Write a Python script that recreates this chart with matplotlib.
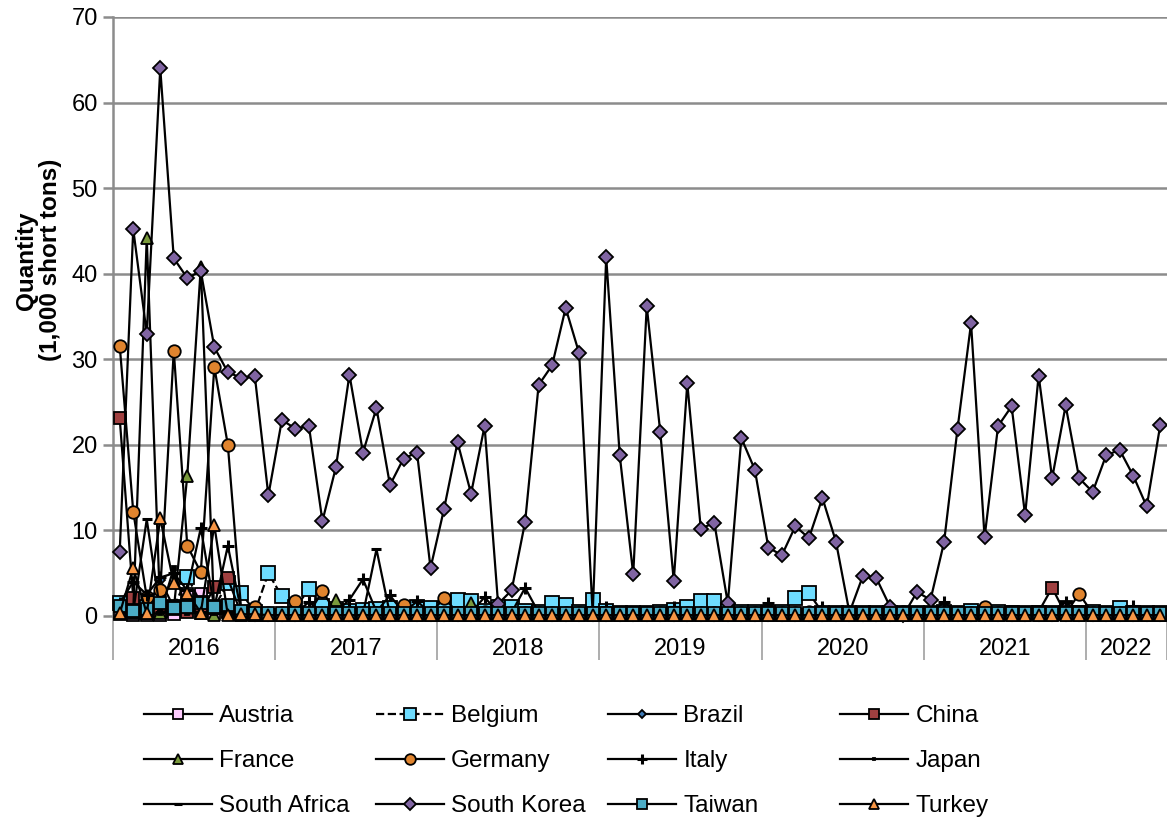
import numpy as np
import matplotlib.pyplot as plt

plt.rcParams['font.family'] = ['Liberation Sans', 'DejaVu Sans']

# monthly data, Jan 2016 - Jun 2022 (78 months), 1,000 short tons
years = ['2016', '2017', '2018', '2019', '2020', '2021', '2022']
months_per_year = [12, 12, 12, 12, 12, 12, 6]

austria = [0.2, 0.1, 0.1, 0.1, 0.2, 2.6, 2.6, 0.3, 0.5, 0.1, 0.1, 0.1,
           0.1, 0.1, 0.1, 0.1, 0.1, 0.1, 0.1, 0.1, 0.1, 0.1, 0.1, 0.1,
           0.1, 0.1, 0.1, 0.1, 0.1, 0.1, 0.1, 0.1, 0.1, 0.1, 0.1, 0.1,
           0.1, 0.1, 0.1, 0.1, 0.1, 0.1, 0.1, 0.1, 0.1, 0.1, 0.1, 0.1,
           0.1, 0.1, 0.1, 0.1, 0.1, 0.1, 0.1, 0.1, 0.1, 0.1, 0.1, 0.1,
           0.1, 0.1, 0.1, 0.1, 0.1, 0.1, 0.1, 0.1, 0.1, 0.1, 1.0, 0.1,
           0.1, 0.1, 0.1, 0.1, 0.1, 0.1]
belgium = [1.5, 0.5, 1.0, 0.7, 1.0, 4.6, 1.5, 1.0, 3.9, 2.7, 0.5, 5.0,
           2.3, 1.0, 3.1, 1.2, 0.8, 0.6, 0.7, 0.8, 0.9, 0.6, 1.0, 0.9,
           0.8, 1.9, 1.7, 0.6, 1.0, 1.1, 0.6, 0.5, 1.5, 1.3, 0.5, 1.9,
           0.6, 0.4, 0.3, 0.3, 0.5, 0.7, 1.0, 1.7, 1.7, 0.6, 0.5, 0.5,
           0.4, 0.5, 2.1, 2.7, 0.4, 0.3, 0.4, 0.3, 0.3, 0.4, 0.3, 0.3,
           0.4, 0.5, 0.3, 0.6, 0.4, 0.5, 0.3, 0.4, 0.3, 0.4, 0.3, 0.4,
           0.5, 0.3, 0.9, 0.4, 0.3, 0.3]
brazil = [0.8, 1.5, 0.5, 4.2, 1.0, 0.8, 0.5, 0.5, 0.6, 0.2, 0.0, 0.0,
          0.0, 0.0, 0.0, 0.0, 0.0, 0.0, 0.0, 0.0, 0.0, 0.0, 0.0, 0.0,
          0.0, 0.0, 0.0, 0.0, 0.0, 0.0, 0.0, 0.0, 0.0, 0.0, 0.0, 0.0,
          0.0, 0.0, 0.0, 0.0, 0.0, 0.0, 0.0, 0.0, 0.0, 0.0, 0.0, 0.0,
          0.0, 0.0, 0.0, 0.0, 0.0, 0.0, 0.0, 0.0, 0.0, 0.0, 0.0, 0.0,
          0.0, 0.0, 0.0, 0.0, 0.0, 0.0, 0.0, 0.0, 0.0, 0.0, 0.0, 0.0,
          0.0, 0.0, 0.0, 0.0, 0.0, 0.0]
china = [23.1, 2.1, 0.3, 0.5, 1.0, 0.5, 0.3, 3.4, 4.4, 0.2, 0.1, 0.1,
         0.1, 0.1, 0.1, 0.1, 0.1, 0.1, 0.1, 0.1, 0.1, 0.1, 0.1, 0.1,
         0.1, 0.1, 0.1, 0.1, 0.1, 0.1, 0.1, 0.1, 0.1, 0.1, 0.1, 0.1,
         0.1, 0.1, 0.1, 0.1, 0.1, 0.1, 0.1, 0.1, 0.1, 0.1, 0.1, 0.1,
         0.1, 0.1, 0.1, 0.1, 0.1, 0.1, 0.1, 0.1, 0.1, 0.1, 0.1, 0.1,
         0.1, 0.1, 0.1, 0.2, 0.1, 0.1, 0.5, 0.2, 0.5, 3.3, 0.2, 0.5,
         0.2, 0.1, 0.1, 0.1, 0.1, 0.1]
france = [0.3, 0.5, 44.2, 0.4, 0.8, 16.4, 40.8, 0.1, 0.5, 0.1, 0.1, 0.1,
          0.2, 0.3, 0.2, 0.3, 1.9, 0.3, 0.2, 0.2, 0.3, 0.2, 0.2, 0.2,
          0.2, 0.3, 1.5, 0.2, 0.2, 0.2, 0.2, 0.2, 0.2, 0.2, 0.2, 0.2,
          0.1, 0.1, 0.1, 0.1, 0.1, 0.1, 0.1, 0.1, 0.1, 0.1, 0.1, 0.1,
          0.1, 0.1, 0.1, 0.1, 0.1, 0.1, 0.1, 0.1, 0.1, 0.1, 0.1, 0.1,
          0.1, 0.1, 0.1, 0.1, 0.1, 0.1, 0.1, 0.1, 0.1, 0.1, 0.1, 0.1,
          0.1, 0.1, 0.1, 0.1, 0.1, 0.1]
germany = [31.6, 12.2, 2.2, 3.0, 31.0, 8.2, 5.1, 29.1, 20.0, 0.5, 1.1, 0.3,
           0.3, 1.7, 0.3, 2.9, 0.4, 0.3, 0.3, 0.4, 0.3, 1.3, 0.3, 0.3,
           2.1, 0.4, 0.3, 0.5, 0.3, 0.3, 0.3, 0.3, 0.3, 0.3, 0.3, 0.3,
           0.3, 0.3, 0.3, 0.3, 0.3, 0.3, 0.3, 0.3, 0.3, 0.3, 0.3, 0.3,
           0.4, 0.3, 0.4, 0.5, 0.5, 0.4, 0.4, 0.3, 0.4, 0.3, 0.5, 0.3,
           0.3, 0.3, 0.3, 0.3, 1.1, 0.3, 0.4, 0.3, 0.3, 0.4, 0.3, 2.6,
           0.3, 0.4, 0.3, 0.3, 0.3, 0.3]
italy = [1.5, 4.0, 2.5, 4.5, 5.0, 3.0, 10.3, 1.0, 8.2, 0.5, 0.3, 0.3,
         0.3, 0.4, 1.6, 0.4, 0.5, 1.9, 4.3, 0.5, 2.4, 0.4, 1.7, 0.4,
         0.4, 0.5, 0.4, 2.2, 0.4, 0.4, 3.3, 0.4, 0.4, 0.4, 0.4, 0.4,
         1.0, 0.4, 0.4, 0.4, 0.4, 1.0, 0.4, 0.4, 0.4, 0.4, 0.4, 0.4,
         1.5, 0.4, 0.4, 0.4, 1.0, 0.4, 0.4, 0.4, 0.4, 0.4, 0.4, 0.4,
         0.4, 1.6, 0.4, 0.4, 0.4, 0.4, 0.4, 0.4, 0.4, 0.4, 1.6, 0.4,
         0.4, 0.4, 0.4, 1.2, 0.4, 0.4]
japan = [0.3, 0.3, 0.3, 0.3, 5.6, 0.3, 0.3, 0.3, 0.3, 0.2, 0.2, 0.2,
         0.2, 0.2, 0.2, 0.2, 0.2, 0.2, 0.2, 0.2, 0.2, 0.2, 0.2, 0.2,
         0.2, 0.2, 0.2, 0.2, 0.2, 0.2, 0.2, 0.2, 0.2, 0.2, 0.2, 0.2,
         0.2, 0.2, 0.2, 0.2, 0.2, 0.2, 0.2, 0.2, 0.2, 0.2, 0.2, 0.2,
         0.2, 0.2, 0.2, 0.2, 0.2, 0.2, 0.2, 0.2, 0.2, 0.2, 0.2, 0.2,
         0.2, 0.2, 0.2, 0.2, 0.2, 0.2, 0.2, 0.2, 0.2, 0.2, 0.2, 0.2,
         0.2, 0.2, 0.2, 0.2, 0.2, 0.2]
south_africa = [0.5, 0.5, 11.3, 0.5, 0.5, 0.5, 0.5, 0.3, 0.3, 0.2, 0.2, 0.2,
                0.2, 0.2, 0.2, 0.2, 0.2, 0.2, 0.2, 7.8, 0.2, 0.2, 0.2, 0.2,
                0.2, 0.2, 0.2, 0.2, 0.2, 0.2, 0.2, 0.2, 0.2, 0.2, 0.2, 0.2,
                0.2, 0.2, 0.2, 0.2, 0.2, 0.2, 0.2, 0.2, 0.2, 0.2, 0.2, 0.2,
                0.2, 0.2, 0.2, 0.2, 0.2, 0.2, 0.2, 0.2, 0.2, 0.2, 0.2, 0.2,
                0.2, 0.2, 0.2, 0.2, 0.2, 0.2, 0.2, 0.2, 0.2, 0.2, 0.2, 0.2,
                0.2, 0.2, 0.2, 0.2, 0.2, 0.2]
south_korea = [7.5, 45.2, 33.0, 64.0, 41.8, 39.5, 40.3, 31.4, 28.5, 27.8, 28.0, 14.1,
               22.9, 21.9, 22.2, 11.1, 17.4, 28.2, 19.1, 24.3, 15.3, 18.4, 19.1, 5.6,
               12.5, 20.3, 14.3, 22.2, 1.4, 3.0, 11.0, 27.0, 29.3, 36.0, 30.7, 0.3,
               41.9, 18.8, 4.9, 36.2, 21.5, 4.1, 27.2, 10.2, 10.9, 1.5, 20.8, 17.1,
               8.0, 7.1, 10.5, 9.1, 13.8, 8.7, 0.4, 4.7, 4.4, 1.1, 0.1, 2.8,
               1.9, 8.6, 21.9, 34.2, 9.2, 22.2, 24.5, 11.8, 28.1, 16.1, 24.6, 16.1,
               14.5, 18.8, 19.4, 16.4, 12.8, 22.3]
taiwan = [1.2, 0.6, 0.8, 1.5, 0.9, 1.1, 1.5, 1.1, 1.3, 0.6, 0.4, 0.3,
          0.4, 0.3, 0.4, 0.3, 0.4, 0.3, 0.3, 0.4, 0.3, 0.4, 0.3, 0.4,
          0.3, 0.4, 0.3, 0.3, 0.4, 0.3, 0.3, 0.3, 0.3, 0.3, 0.3, 0.3,
          0.3, 0.3, 0.3, 0.3, 0.3, 0.3, 0.3, 0.3, 0.3, 0.3, 0.3, 0.3,
          0.3, 0.3, 0.3, 0.3, 0.3, 0.3, 0.3, 0.3, 0.3, 0.3, 0.3, 0.3,
          0.3, 0.3, 0.3, 0.3, 0.3, 0.3, 0.3, 0.3, 0.3, 0.3, 0.3, 0.3,
          0.3, 0.3, 0.3, 0.3, 0.3, 0.3]
turkey = [0.3, 5.6, 0.3, 11.4, 3.8, 2.7, 0.4, 10.6, 0.1, 0.2, 0.2, 0.1,
          0.1, 0.1, 0.1, 0.1, 0.1, 0.1, 0.1, 0.1, 0.1, 0.1, 0.1, 0.1,
          0.1, 0.1, 0.1, 0.1, 0.1, 0.1, 0.1, 0.1, 0.1, 0.1, 0.1, 0.1,
          0.1, 0.1, 0.1, 0.1, 0.1, 0.1, 0.1, 0.1, 0.1, 0.1, 0.1, 0.1,
          0.1, 0.1, 0.1, 0.1, 0.1, 0.1, 0.1, 0.1, 0.1, 0.1, 0.1, 0.1,
          0.1, 0.1, 0.1, 0.1, 0.1, 0.1, 0.1, 0.1, 0.1, 0.1, 0.1, 0.1,
          0.1, 0.1, 0.1, 0.1, 0.1, 0.1]

# name, data, marker, face colour, marker size, line style
series = [
    ('Austria', austria, 's', '#FFCCFF', 9, '-'),
    ('Belgium', belgium, 's', '#6EDCFF', 10, '--'),
    ('Brazil', brazil, 'D', '#3C78B4', 5, '-'),
    ('China', china, 's', '#A04040', 9, '-'),
    ('France', france, '^', '#7A9A3C', 8, '-'),
    ('Germany', germany, 'o', '#E0842E', 9, '-'),
    ('Italy', italy, '+', 'black', 9, '-'),
    ('Japan', japan, 's', 'black', 2.5, '-'),
    ('South Africa', south_africa, '_', 'black', 7, '-'),
    ('South Korea', south_korea, 'D', '#8064A2', 7, '-'),
    ('Taiwan', taiwan, 's', '#4BACC6', 9, '-'),
    ('Turkey', turkey, '^', '#F79646', 8, '-'),
]

fig = plt.figure(figsize=(11.67, 8.21), dpi=100)
ax = fig.add_axes([0.0968, 0.2497, 0.9032, 0.7296])

x = np.arange(len(south_korea))
handles = []
for i, (name, vals, mk, fc, ms, ls) in enumerate(series):
    mew = 2.2 if mk in ('+', '_') else 1.3
    h, = ax.plot(x, vals, color='black', lw=1.6, ls=ls, marker=mk, ms=ms,
                 mfc=fc, mec='black', mew=mew, label=name, zorder=3 + i,
                 clip_on=False)
    handles.append(h)

ax.set_ylim(0, 70)
ax.set_yticks(range(0, 71, 10))
ax.set_xlim(-0.5, len(x) - 0.5)
ax.grid(axis='y', color='#8C8C8C', lw=1.8)
ax.set_axisbelow(True)
for s in ['top', 'right']:
    ax.spines[s].set_visible(False)
ax.spines['left'].set_color('#8C8C8C')
ax.spines['left'].set_linewidth(1.8)
ax.spines['bottom'].set_color('#8C8C8C')
ax.spines['bottom'].set_linewidth(1.8)
ax.tick_params(axis='y', labelsize=17, length=7, width=1.8, color='#8C8C8C', pad=4)

# year groups on the category axis
bounds = np.cumsum([0] + months_per_year) - 0.5
centers = (bounds[:-1] + bounds[1:]) / 2
ax.set_xticks(centers)
ax.set_xticklabels(years)
ax.set_xticks(bounds, minor=True)
ax.tick_params(axis='x', which='major', length=0, labelsize=17, pad=16)
ax.tick_params(axis='x', which='minor', length=32, width=1.2, color='#A0A0A0')

fig.text(0.033, 0.683, 'Quantity\n(1,000 short tons)', rotation=90,
         ha='center', va='center', fontsize=17.5, fontweight='bold',
         multialignment='center', linespacing=1.05)

# legend laid out in four fixed columns, filled row by row
col_x = [0.123, 0.322, 0.521, 0.720]
for c in range(4):
    hs = [handles[c + 4 * r] for r in range(3)]
    fig.legend(hs, [h.get_label() for h in hs], loc='upper left',
               bbox_to_anchor=(col_x[c], 0.141), frameon=False, fontsize=17.5,
               handlelength=2.8, handletextpad=0.3, labelspacing=0.95,
               markerscale=0.85, borderaxespad=0, borderpad=0)

fig.savefig('out.png', dpi=100)
